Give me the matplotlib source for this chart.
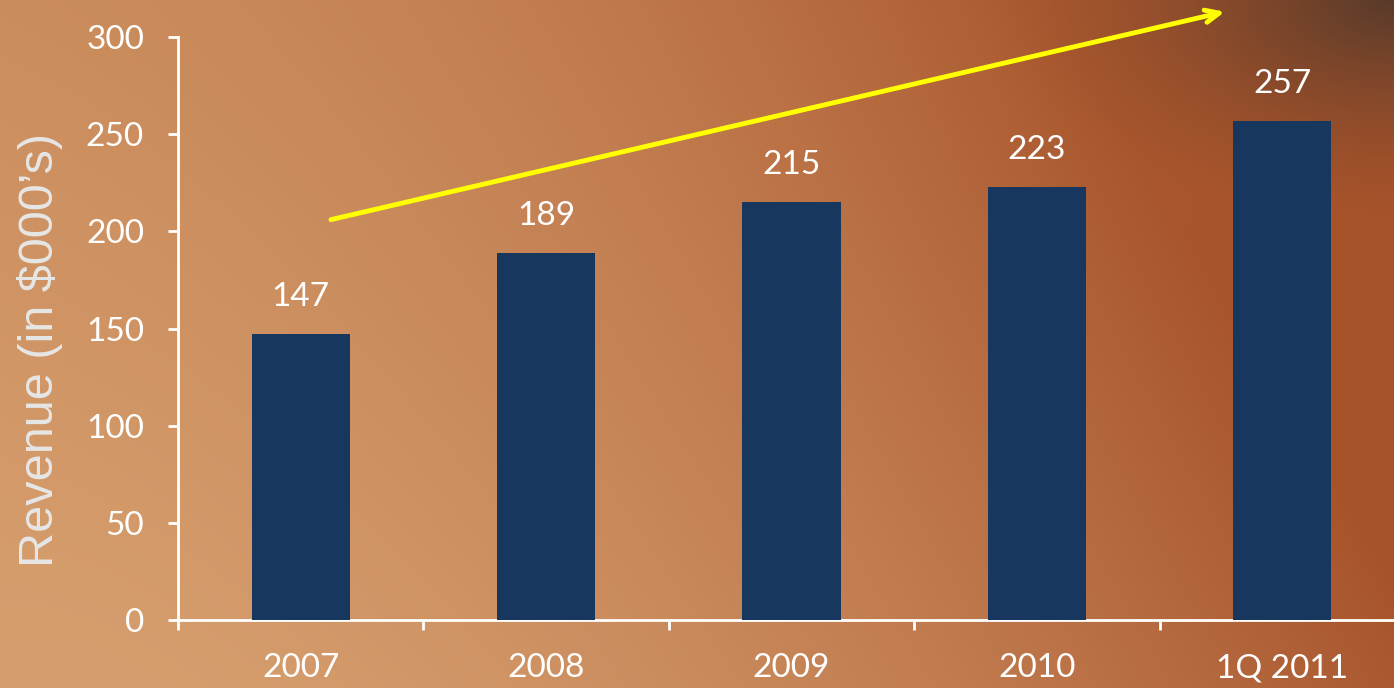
import numpy as np
import matplotlib
matplotlib.use("Agg")
import matplotlib.pyplot as plt
from matplotlib.colors import to_rgb
from matplotlib.ticker import FixedLocator

# Revenue by period (in $000's)
categories = ["2007", "2008", "2009", "2010", "1Q 2011"]
revenue = [147, 189, 215, 223, 257]
y_ticks = [0, 50, 100, 150, 200, 250, 300]

W, H, DPI = 1394, 688, 100
fig = plt.figure(figsize=(W / DPI, H / DPI), dpi=DPI)

# Warm brown gradient background
bg = fig.add_axes([0, 0, 1, 1], zorder=-10)
bg.set_axis_off()
yy, xx = np.mgrid[0:H, 0:W]
u = xx / W
v = yy / H  # 0 at top
light = np.array(to_rgb("#d69e6e"))
mid = np.array(to_rgb("#c4804f"))
rust = np.array(to_rgb("#a7532a"))
dark = np.array(to_rgb("#583a2a"))
# diagonal blend light (bottom-left) -> rust (right)
t = np.clip(1.0 * u + 0.3 * (1 - v) - 0.05, 0, 1)
t = t ** 1.7
base = light[None, None, :] * (1 - t[..., None]) + rust[None, None, :] * t[..., None]
# slight darkening toward top-left
s = np.clip((1 - v) * (1 - u) * 0.45, 0, 1)
base = base * (1 - s[..., None]) + mid[None, None, :] * s[..., None]
# dark corner at top right
d = np.sqrt(((u - 1.0) * 1.0) ** 2 + ((v - 0.0) * 0.9) ** 2)
k = np.clip(1 - d / 0.30, 0, 1) ** 1.6
img = base * (1 - k[..., None]) + dark[None, None, :] * k[..., None]
bg.imshow(img, extent=[0, 1, 0, 1], aspect="auto", origin="upper")

ax = fig.add_axes([178 / W, 68 / H, 1227 / W, 583 / H])
ax.patch.set_alpha(0)

x = np.arange(len(categories))
bars = ax.bar(x, revenue, width=0.4, color="#18375f", zorder=3)

tick_font = "Lato"
for xi, val in zip(x, revenue):
    ax.text(xi, val + 19, f"{val}", ha="center", va="center",
            color="white", fontsize=24, family=tick_font)

ax.set_xlim(-0.5, len(categories) - 0.5)
ax.set_ylim(0, 300)

ax.set_xticks(x)
ax.set_xticklabels(categories, fontsize=24, color="white", family=tick_font)
ax.xaxis.set_minor_locator(FixedLocator(np.arange(-0.5, len(categories), 1.0)))
ax.tick_params(axis="x", which="major", length=0, pad=24)
ax.tick_params(axis="x", which="minor", length=7.5, width=2, color="white", direction="out")

ax.set_yticks(y_ticks)
ax.set_yticklabels([str(t) for t in y_ticks], fontsize=24, color="white", family=tick_font)
ax.tick_params(axis="y", length=7.5, width=2, color="white", direction="out", pad=17)

for side in ("top", "right"):
    ax.spines[side].set_visible(False)
for side in ("left", "bottom"):
    ax.spines[side].set_color("white")
    ax.spines[side].set_linewidth(2)

fig.text(40 / W, 1 - 350 / H, "Revenue (in $000\u2019s)", rotation=90,
         ha="center", va="center", color="#e6e6e6", fontsize=35,
         family="Liberation Sans")

# Yellow trend arrow
ax.annotate("", xy=(3.766, 313), xytext=(0.123, 206),
            xycoords="data", textcoords="data", annotation_clip=False,
            arrowprops=dict(arrowstyle="->,head_length=1.0,head_width=0.45",
                            color="#ffff00", lw=3.5, shrinkA=0, shrinkB=0))

fig.savefig("out.png", dpi=DPI)
